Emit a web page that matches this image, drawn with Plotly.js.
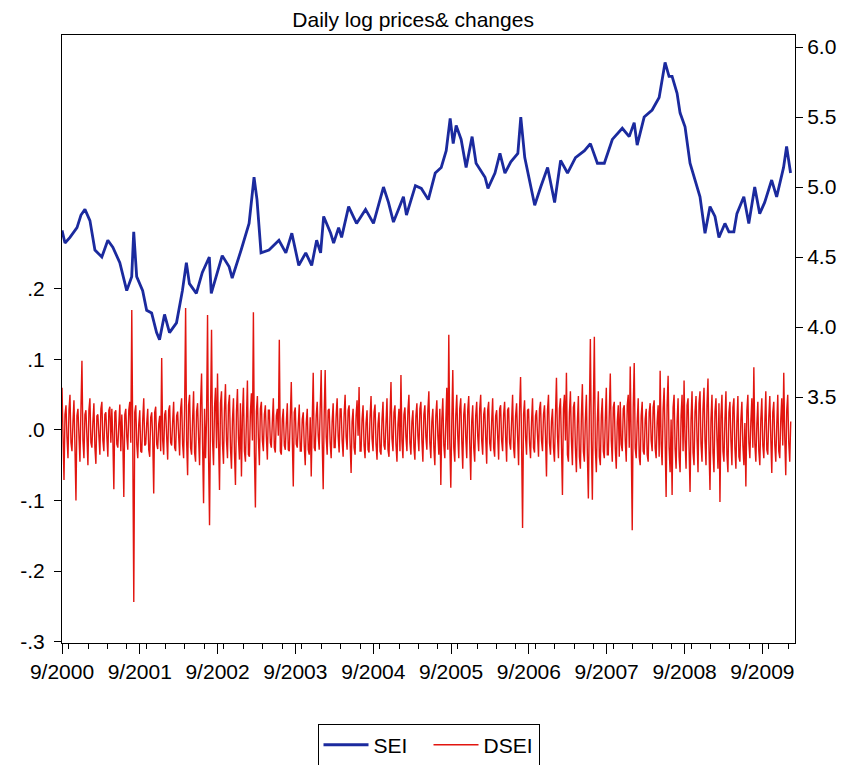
<!DOCTYPE html>
<html>
<head>
<meta charset="utf-8">
<script src="https://cdn.plot.ly/plotly-3.0.1.min.js"></script>
<style>html,body{margin:0;padding:0;background:#fff;}#chart{width:853px;height:765px;}</style>
</head>
<body>
<div id="chart"></div>
<script>
// SEI: daily log price, sampled (fractional year, value)
const seiT = [2000.667,2000.705,2000.769,2000.859,2000.910,2000.961,2001.025,2001.089,2001.178,2001.255,
2001.319,2001.409,2001.498,2001.562,2001.588,2001.626,2001.703,2001.754,2001.818,2001.882,
2001.920,2001.984,2002.048,2002.138,2002.214,2002.265,2002.304,2002.393,2002.470,2002.560,
2002.585,2002.687,2002.726,2002.815,2002.854,2002.969,2003.071,2003.135,2003.173,2003.225,
2003.327,2003.455,2003.544,2003.621,2003.710,2003.800,2003.876,2003.940,2003.991,2004.030,
2004.120,2004.158,2004.222,2004.260,2004.350,2004.452,2004.567,2004.669,2004.797,2004.861,
2004.925,2004.989,2005.053,2005.092,2005.207,2005.283,2005.373,2005.462,2005.539,2005.603,
2005.654,2005.693,2005.731,2005.795,2005.859,2005.936,2005.987,2006.102,2006.140,2006.230,
2006.294,2006.358,2006.434,2006.524,2006.562,2006.613,2006.677,2006.741,2006.818,2006.907,
2006.997,2007.074,2007.163,2007.265,2007.381,2007.457,2007.547,2007.636,2007.739,2007.867,
2007.956,2008.020,2008.058,2008.148,2008.250,2008.340,2008.416,2008.467,2008.506,2008.570,
2008.608,2008.672,2008.736,2008.800,2008.864,2008.928,2008.992,2009.056,2009.107,2009.184,
2009.235,2009.299,2009.338,2009.427,2009.491,2009.567,2009.631,2009.695,2009.785,2009.849,
2009.938,2009.977,2010.028];
const seiV = [4.69,4.60,4.64,4.71,4.80,4.84,4.76,4.55,4.50,4.62,
4.57,4.46,4.26,4.36,4.68,4.36,4.26,4.12,4.10,3.96,
3.91,4.09,3.96,4.03,4.26,4.46,4.31,4.24,4.39,4.50,
4.24,4.43,4.51,4.43,4.35,4.55,4.74,5.07,4.91,4.53,
4.55,4.62,4.53,4.67,4.44,4.53,4.44,4.62,4.53,4.79,
4.67,4.60,4.71,4.64,4.86,4.74,4.84,4.74,5.00,4.89,
4.75,4.84,4.93,4.80,5.01,4.99,4.91,5.10,5.14,5.26,
5.49,5.31,5.44,5.34,5.14,5.36,5.17,5.07,4.99,5.10,
5.24,5.10,5.18,5.24,5.50,5.21,5.05,4.87,5.00,5.14,
4.89,5.19,5.10,5.21,5.26,5.31,5.17,5.17,5.34,5.42,
5.36,5.46,5.30,5.50,5.55,5.64,5.89,5.79,5.79,5.67,
5.53,5.43,5.17,5.05,4.93,4.67,4.86,4.79,4.64,4.74,
4.68,4.68,4.81,4.93,4.74,5.00,4.81,4.89,5.05,4.93,
5.14,5.29,5.10];

// DSEI: daily log changes, read as a sequence sampled every ~4.68 days from 9/2000
const dseiStart = '2000-09-01';
const dseiStepDays = 4.6785;
const dseiV = [
.060,-.015,-.071,.022,.035,-.010,-.040,.028,.050,-.018,-.030,.012,.042,-.025,-.100,.020,.030,-.008,-.045,.030,
.098,-.015,-.040,.022,.028,-.010,-.050,.028,.045,-.018,-.025,.012,.038,-.025,-.048,.020,.022,-.008,-.035,.030,
.040,-.015,-.030,.022,.025,-.010,-.038,.028,.033,-.018,.030,-.012,-.084,.025,.028,-.020,-.025,.008,.036,-.030,
.022,-.015,-.095,.022,.030,-.010,-.028,.028,.040,-.018,.170,-.020,-.244,.025,.035,-.020,-.040,.008,.028,-.030,
-.032,.015,.045,-.022,-.020,.010,.030,-.028,-.038,.018,.025,-.012,-.090,.025,.033,-.020,-.027,.008,.020,-.030,
.102,-.015,-.035,.022,.028,-.010,-.042,.028,.035,-.018,-.022,.012,.040,-.025,-.030,.020,.026,-.008,-.036,.030,
.045,-.020,-.040,.030,.173,-.015,-.064,.035,.050,-.025,-.035,.015,.055,-.032,-.045,.026,.038,-.012,-.050,.038,
.080,-.020,-.104,.030,-.040,.015,.163,-.035,-.135,.025,.142,-.015,-.050,.032,.060,-.026,.080,-.012,-.085,.038,
.055,-.020,-.048,.030,.065,-.015,-.040,.035,.050,-.025,-.055,.015,.045,-.032,-.078,.026,.058,-.012,-.042,.038,
-.066,.020,.060,-.030,-.045,.015,.070,-.035,-.038,.025,.052,-.015,.167,-.032,-.110,.026,.048,-.012,-.050,.030,
.040,-.015,-.030,.022,.035,-.010,-.042,.028,.028,-.018,-.025,.012,.045,-.025,-.032,.020,.030,-.008,.128,-.030,
-.035,.015,.030,-.022,-.028,.010,.038,-.028,-.030,.018,.068,-.012,-.080,.025,.032,-.020,-.025,.008,.036,-.030,
-.030,.015,.025,-.022,-.050,.010,.030,-.028,-.035,.018,-.066,.012,.081,-.025,-.030,.020,.040,-.008,-.028,.030,
.085,-.015,-.084,.022,.085,-.010,-.035,.028,.030,-.018,-.040,.012,.038,-.025,-.025,.020,.045,-.008,-.032,.030,
.030,-.015,-.038,.022,.050,-.010,-.028,.028,.035,-.018,-.061,.012,.030,-.025,-.035,.020,.042,-.008,.061,-.030,
-.030,.015,.035,-.022,-.040,.010,.028,-.028,-.032,.018,.048,-.012,-.030,.025,.036,-.020,-.042,.008,.025,-.030,
-.035,.015,.040,-.022,-.028,.010,.045,-.028,-.038,.018,.068,-.012,-.030,.025,.035,-.020,-.045,.008,.030,-.030,
.078,-.015,-.040,.022,.032,-.010,-.030,.028,.050,-.018,-.035,.012,.028,-.025,-.042,.020,.038,-.008,-.030,.030,
.040,-.015,-.045,.022,.035,-.010,-.028,.028,.055,-.018,-.040,.012,.030,-.025,-.050,.020,.042,-.008,-.035,.030,
-.078,.015,.045,-.022,-.040,.010,.060,-.028,.135,-.018,-.082,.012,.085,-.025,-.045,.020,.050,-.008,-.040,.030,
.045,-.015,-.055,.022,.038,-.010,-.040,.028,.048,-.018,-.071,.012,.035,-.025,-.045,.020,.040,-.008,-.030,.030,
.050,-.015,-.035,.022,.032,-.010,-.048,.028,.040,-.018,-.030,.012,.045,-.025,-.038,.020,.028,-.008,-.042,.030,
.035,-.015,-.030,.022,.040,-.010,-.045,.028,.032,-.018,-.028,.012,.050,-.025,-.040,.020,.038,-.008,-.050,.030,
.075,-.015,-.139,.022,.042,-.010,-.035,.028,.030,-.018,-.040,.012,.045,-.025,-.032,.020,.028,-.008,-.038,.030,
.040,-.015,-.030,.022,.035,-.010,-.066,.028,.050,-.018,-.035,.012,.030,-.025,-.045,.020,.074,-.008,-.040,.030,
.045,-.020,-.092,.030,.050,-.015,.081,-.035,-.045,.025,.055,-.015,-.050,.032,.040,-.026,-.060,.012,.048,-.038,
-.055,.020,.065,-.030,-.045,.015,.050,-.035,-.097,.025,.129,-.015,-.099,.032,.132,-.026,-.060,.012,.055,-.038,
-.050,.020,.045,-.030,-.040,.015,.060,-.035,-.035,.025,.080,-.015,-.045,.032,.040,-.026,-.055,.012,.035,-.038,
.040,-.020,-.030,.030,.035,-.015,-.045,.035,.050,-.025,.090,-.015,-.142,.032,.095,-.026,-.040,.012,.045,-.038,
-.050,.020,.040,-.030,-.035,.015,.030,-.035,-.045,.025,.038,-.015,-.030,.032,.042,-.026,-.040,.012,.035,-.038,
.084,-.020,-.050,.030,.060,-.015,-.095,.035,.077,-.025,-.060,.015,-.092,.032,.050,-.026,-.055,.012,.045,-.038,
-.060,.020,.050,-.030,.070,-.015,-.055,.035,.045,-.025,-.088,.015,.055,-.032,-.050,.026,.048,-.012,-.060,.038,
.055,-.020,-.045,.030,.060,-.015,-.050,.035,.073,-.025,-.085,.015,.050,-.032,-.060,.026,.045,-.012,-.055,.038,
-.102,.020,.050,-.030,-.045,.015,.055,-.035,-.060,.025,.040,-.015,-.050,.032,.045,-.026,-.055,.012,.048,-.038,
-.045,.015,.040,-.022,-.050,.010,-.080,.028,.050,-.018,-.040,.012,.045,-.025,.089,-.020,-.045,.008,.040,-.030,
-.050,.015,.045,-.022,-.040,.010,.055,-.028,-.035,.018,.048,-.012,-.061,.025,.040,-.020,-.045,.008,.050,-.030,
-.040,.015,.045,-.022,.081,-.010,-.064,.028,.050,-.018,-.045,.012];

const leftTicks = [-0.3,-0.2,-0.1,0.0,0.1,0.2];
const leftTickText = ['-.3','-.2','-.1','.0','.1','.2'];
const rightTicks = [3.5,4.0,4.5,5.0,5.5,6.0];
const rightTickText = ['3.5','4.0','4.5','5.0','5.5','6.0'];

function yearToDate(t){
  const y = Math.floor(t);
  const a = Date.UTC(y,0,1), b = Date.UTC(y+1,0,1);
  return new Date(a + (t-y)*(b-a)).toISOString().slice(0,16).replace('T',' ');
}
const seiX = seiT.map(yearToDate);
const d0 = Date.parse(dseiStart+'T00:00:00Z');
const dseiX = dseiV.map((v,i)=>new Date(d0 + i*dseiStepDays*86400000).toISOString().slice(0,16).replace('T',' '));

const FONT = 'Arial, "Liberation Sans", sans-serif';
const FS = 21;
const traces = [
  {x: seiX, y: seiV, name: 'SEI', type: 'scatter', mode: 'lines', yaxis: 'y2',
   line: {color: '#1b2a9e', width: 2.8}},
  {x: dseiX, y: dseiV, name: 'DSEI', type: 'scatter', mode: 'lines', yaxis: 'y',
   line: {color: '#e2150f', width: 1.4}}
];
const layout = {
  width: 853, height: 765,
  margin: {l: 62, r: 58, t: 35, b: 122, autoexpand: false},
  paper_bgcolor: '#fff', plot_bgcolor: '#fff',
  font: {family: FONT, size: FS, color: '#000'},
  title: {text: 'Daily log prices& changes', x: 0.479, xref: 'paper', xanchor: 'center',
          y: 0.974, yanchor: 'middle', font: {family: FONT, size: FS, color: '#000'}},
  showlegend: true,
  legend: {orientation: 'h', x: 0.5, xanchor: 'center', yref: 'container', y: 0.026, yanchor: 'middle',
           bgcolor: '#fff', bordercolor: '#000', borderwidth: 1, itemwidth: 45,
           entrywidth: 50, entrywidthmode: 'pixels',
           font: {family: FONT, size: FS, color: '#000'}},
  xaxis: {type: 'date', range: ['2000-09-01', '2010-02-01'], tick0: '2000-09-01', dtick: 'M12',
          tickformat: '%-m/%Y', ticks: 'outside', ticklen: 10, tickcolor: '#000', tickwidth: 1,
          minor: {dtick: 'M3', ticks: 'outside', ticklen: 5, tickcolor: '#000', showgrid: false},
          showline: true, linecolor: '#000', linewidth: 1, mirror: true, showgrid: false, zeroline: false,
          tickfont: {family: FONT, size: FS, color: '#000'}},
  yaxis: {range: [-0.302, 0.560], tickvals: leftTicks, ticktext: leftTickText,
          ticks: 'outside', ticklen: 7, tickcolor: '#000', showline: true, linecolor: '#000', linewidth: 1,
          mirror: true, showgrid: false, zeroline: false, ticklabelstandoff: 5,
          tickfont: {family: FONT, size: FS, color: '#000'}},
  yaxis2: {range: [1.743, 6.086], overlaying: 'y', side: 'right', tickvals: rightTicks, ticktext: rightTickText,
           ticks: 'outside', ticklen: 7, tickcolor: '#000', showline: true, linecolor: '#000', linewidth: 1,
           showgrid: false, zeroline: false,
           tickfont: {family: FONT, size: FS, color: '#000'}}
};
Plotly.newPlot('chart', traces, layout, {displayModeBar: false, staticPlot: true});
</script>
</body>
</html>
